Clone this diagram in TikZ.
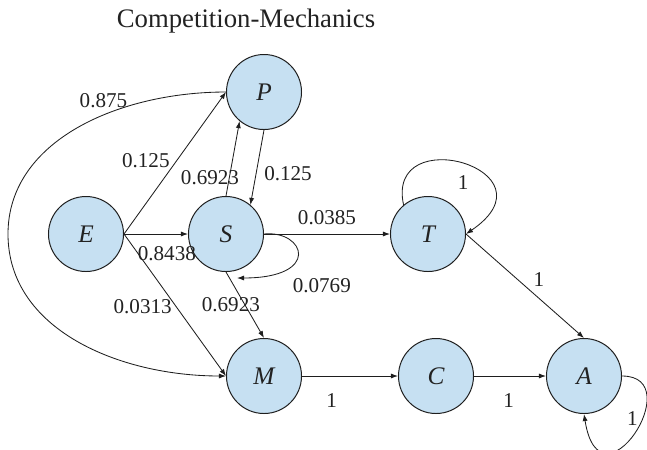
\documentclass[tikz,border=0pt]{standalone}
\usepackage{fontspec}
\setmainfont{Liberation Serif}
\usetikzlibrary{arrows.meta}
\definecolor{cmfill}{HTML}{C6E0F2}
\definecolor{cmline}{HTML}{1E1E1E}
\definecolor{cmtext}{HTML}{222222}
\tikzset{
  stnode/.style = {circle, draw=cmline, fill=cmfill, line width=0.7pt,
                   minimum size=1.875cm, inner sep=0pt, text=cmtext,
                   font=\fontsize{18}{18}\selectfont\itshape},
  trans/.style  = {-{Latex[length=5pt,width=3.6pt]}, draw=cmline,
                   line width=0.6pt},
  lbl/.style    = {font=\fontsize{15}{15}\selectfont, text=cmtext,
                   inner sep=1pt},
  ttl/.style    = {font=\fontsize{19}{19}\selectfont, text=cmtext,
                   inner sep=0pt},
}

\begin{document}
\begin{tikzpicture}[x=0.025cm, y=-0.025cm]
  \useasboundingbox (0,0) rectangle (647,449);

  % ---------- title -------------------------------------------------------
  \node[ttl, anchor=base] (title) at (246,27) {Competition-Mechanics};

  % ---------- states ------------------------------------------------------
  \node[stnode] (P) at (264, 92) {P};
  \node[stnode] (E) at ( 86,234) {E};
  \node[stnode] (S) at (226,234) {S};
  \node[stnode] (T) at (428,234) {T};
  \node[stnode] (M) at (264,376) {M};
  \node[stnode] (C) at (436,376) {C};
  \node[stnode] (A) at (584,376) {A};

  % ---------- transitions out of E ---------------------------------------
  \draw[trans] (E.east) -- node[lbl, pos=0.52, left=4pt] {0.125} (P.west);
  \draw[trans] (E.east) -- node[lbl, pos=0.67, below=7.6pt] {0.8438} (S.west);
  \draw[trans] (E.east) -- node[lbl, pos=0.51, left=1.8pt] {0.0313} (M.west);

  % P -> M : long way round on the left
  \draw[trans] (P.west) .. controls (120,92) and (8,140) .. (8,234)
      node[lbl, pos=0.4, above=4pt] {0.875}
      .. controls (8,330) and (120,376) .. (M.west);

  % ---------- between P and S --------------------------------------------
  \draw[trans] (S.north) -- node[lbl, pos=0.24, xshift=-13.7pt] {0.6923} (P.230);
  \draw[trans] (P.south) -- node[lbl, pos=0.58, right=4.5pt] {0.125} (S.50);

  % ---------- out of S ----------------------------------------------------
  \draw[trans] (S.east) -- node[lbl, midway, above=5.6pt] {0.0385} (T.west);
  \draw[trans] (S.east) .. controls (305,230) and (322,278)
      .. node[lbl, pos=0.7, xshift=24pt, yshift=-12.8pt] {0.0769}
      ([shift={(11,44)}]S.center);
  \draw[trans] (S.south) -- node[lbl, pos=0.49, xshift=-9.8pt] {0.6923} (M.north);

  % ---------- T, bottom row and absorbing A -------------------------------
  \draw[trans] (T.130) .. controls (385,120) and (560,170)
      .. node[lbl, pos=0.5, below=7pt] {1} (T.east);
  \draw[trans] (T.east) -- node[lbl, pos=0.44, right=9.9pt] {1} (A.north);
  \draw[trans] (M.east) -- node[lbl, pos=0.31, below=10.9pt] {1} (C.west);
  \draw[trans] (C.east) -- node[lbl, pos=0.48, below=10.9pt] {1} (A.west);
  \draw[trans] (A.east) .. controls (690,376) and (600,515)
      .. node[lbl, pos=0.4, left=2.3pt] {1} (A.south);

\end{tikzpicture}
\end{document}
